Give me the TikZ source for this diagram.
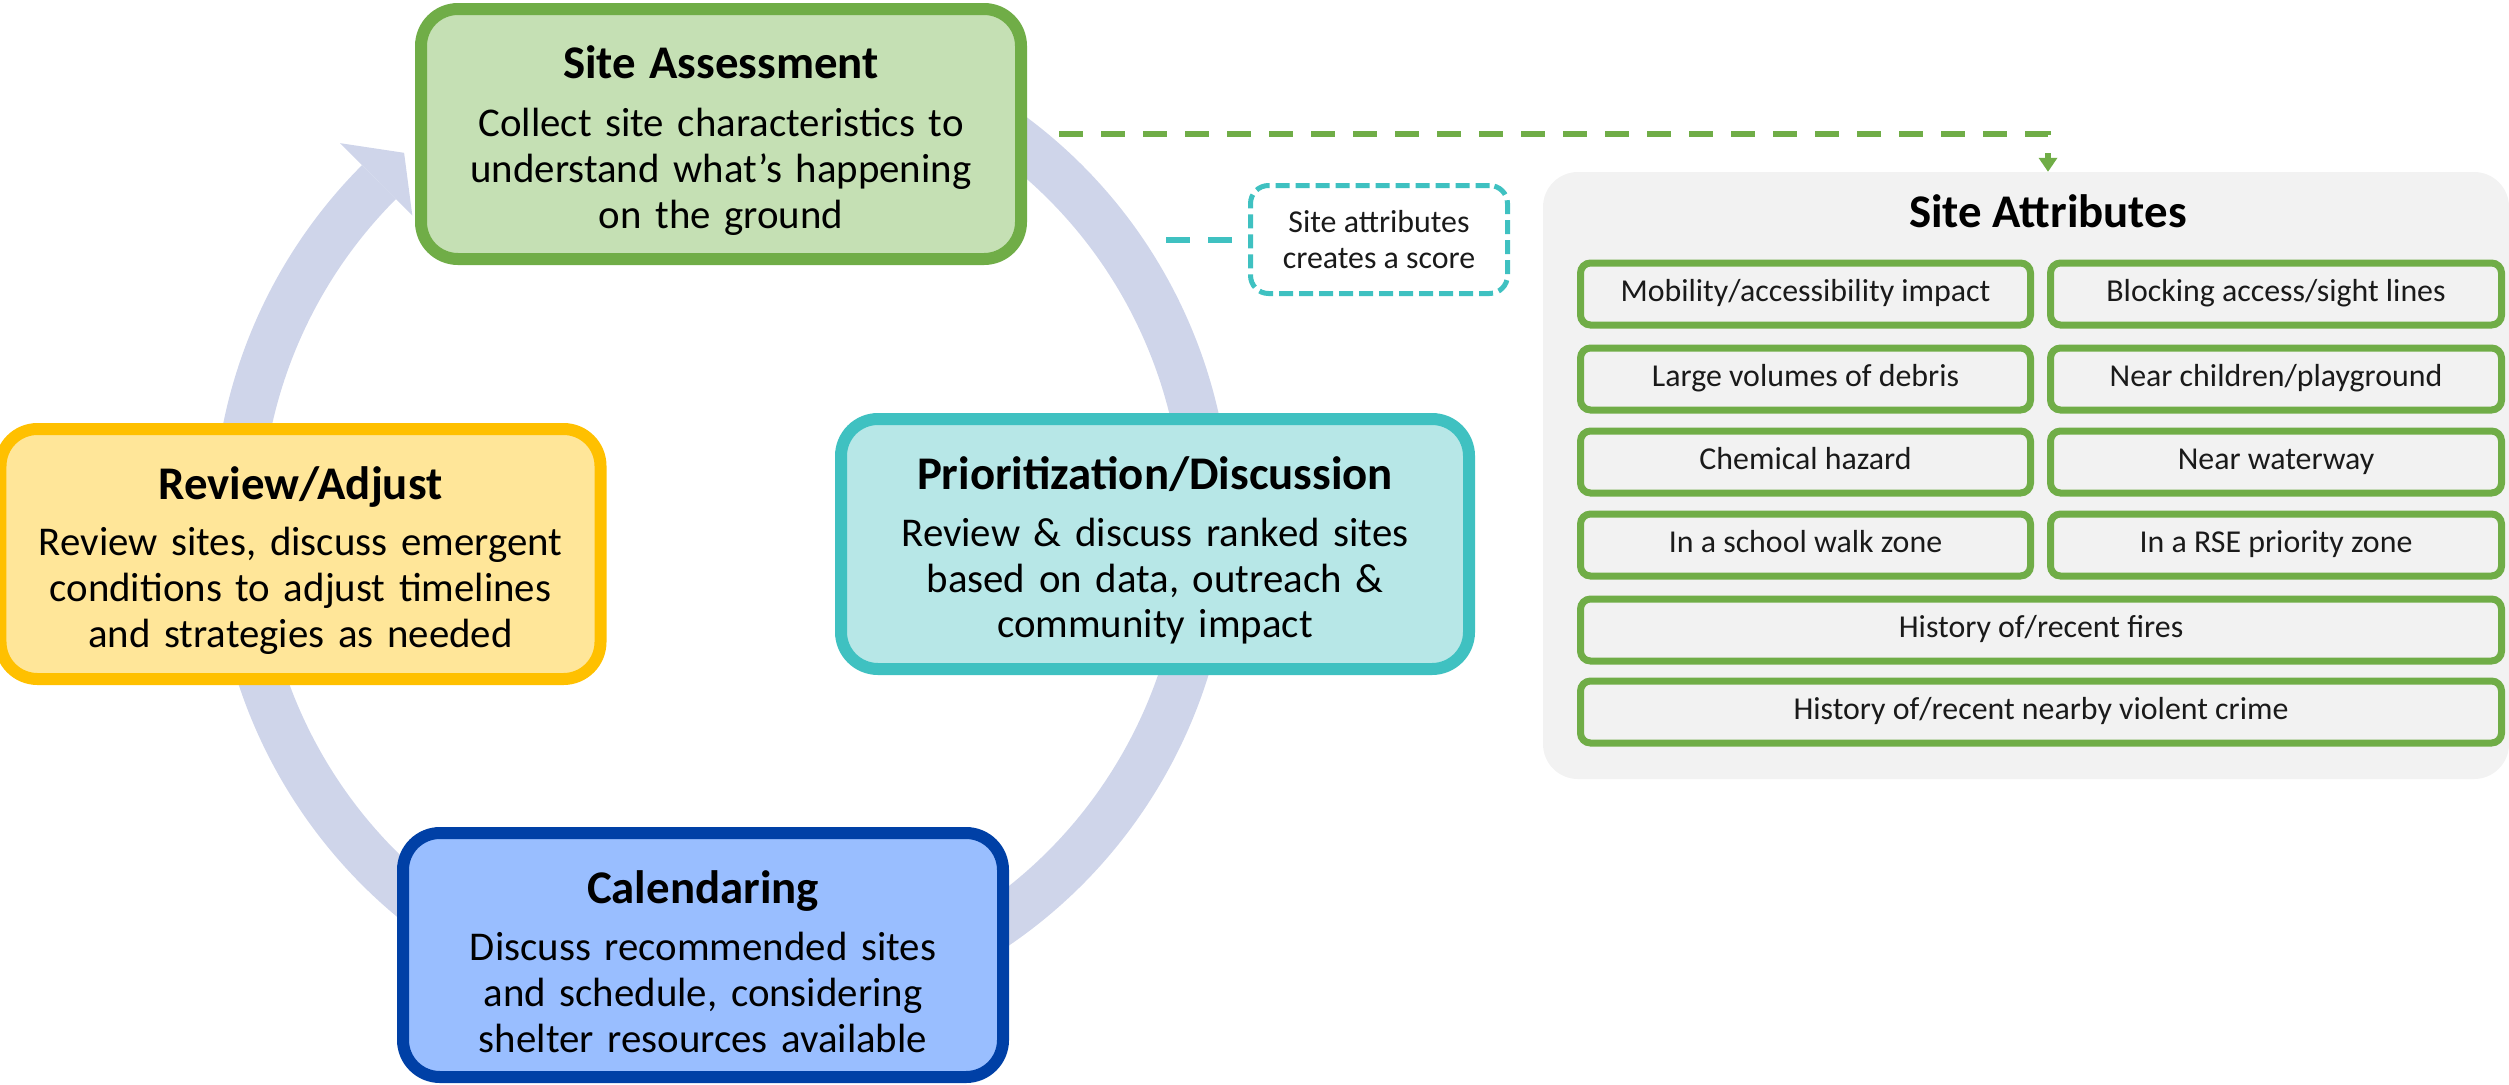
\documentclass[tikz,border=0pt]{standalone}
\usepackage{fontspec}
\setmainfont{Carlito}
\usetikzlibrary{arrows.meta,calc}
\definecolor{gborder}{HTML}{70AD47}
\definecolor{gfill}{HTML}{C5E0B4}
\definecolor{yborder}{HTML}{FFC000}
\definecolor{yfill}{HTML}{FFE699}
\definecolor{tborder}{HTML}{3FC1C1}
\definecolor{tfill}{HTML}{B7E7E7}
\definecolor{bborder}{HTML}{0040A6}
\definecolor{bfill}{HTML}{99BEFF}
\definecolor{ringc}{HTML}{CFD5EA}
\definecolor{panelc}{HTML}{F2F2F2}
\definecolor{txtc}{HTML}{1A1A1A}
\newcommand\stagetitle[1]{{\fontsize{47}{50}\selectfont\bfseries\rule{0pt}{46bp}#1}}
\tikzset{
  stage/.style={rounded corners=37bp, line width=12bp, inner sep=0pt, align=center,
    text width=600bp, font=\fontsize{41}{46}\selectfont, text=black},
  attr/.style={draw=gborder, line width=7bp, rounded corners=10bp, minimum height=62bp,
    inner sep=0pt, font=\fontsize{32}{36}\selectfont, text=txtc, text height=22bp, text depth=7bp},
  dashconn/.style={line width=6bp, dash pattern=on 24bp off 18bp},
}
\begin{document}
\begin{tikzpicture}[x=1bp,y=-1bp]
\useasboundingbox (0,0) rectangle (2509,1084);
% cycle ring
\coordinate (rc) at (722,525);
\draw[ringc, line width=48bp] (rc) ++(-60:485) arc[start angle=-60, end angle=225, radius=485];
\fill[ringc] ($(rc)+(225:540)$) -- ($(rc)+(229.5:489.5)$) -- ($(rc)+(225:438)$) -- cycle;
% stages
\node[stage, draw=gborder, fill=gfill, minimum width=586bp, minimum height=250bp] (sa) at (721,134)
  {\stagetitle{Site Assessment}\\[12bp] Collect site characteristics to\\ understand what’s happening\\ on the ground};
\node[stage, draw=yborder, fill=yfill, minimum width=581bp, minimum height=250bp] (rev) at (300.5,554)
  {\stagetitle{Review/Adjust}\\[10bp] Review sites, discuss emergent\\ conditions to adjust timelines\\ and strategies as needed};
\node[stage, draw=tborder, fill=tfill, minimum width=628bp, minimum height=250bp] (pri) at (1155,544)
  {\stagetitle{Prioritization/Discussion}\\[11bp] Review \& discuss ranked sites\\ based on data, outreach \&\\ community impact};
\node[stage, draw=bborder, fill=bfill, minimum width=588bp, minimum height=244bp] (cal) at (703,955)
  {\stagetitle{Calendaring}\\[11bp] Discuss recommended sites\\ and schedule, considering\\ shelter resources available};
% attributes panel
\node[fill=panelc, rounded corners=35bp, minimum width=966bp, minimum height=607bp, inner sep=0pt] (panel) at (2026,475.5) {};
\node[anchor=base, font=\fontsize{47}{50}\selectfont\bfseries, inner sep=0pt] (satitle) at (2048,227) {Site Attributes};
\node[attr, minimum width=450bp] (a1) at (1805.5,294) {Mobility/accessibility impact};
\node[attr, minimum width=451bp] (a2) at (2276,294) {Blocking access/sight lines};
\node[attr, minimum width=450bp] (a3) at (1805.5,379) {Large volumes of debris};
\node[attr, minimum width=451bp] (a4) at (2276,379) {Near children/playground};
\node[attr, minimum width=450bp] (a5) at (1805.5,462) {Chemical hazard};
\node[attr, minimum width=451bp] (a6) at (2276,462) {Near waterway};
\node[attr, minimum width=450bp] (a7) at (1805.5,545) {In a school walk zone};
\node[attr, minimum width=451bp] (a8) at (2276,545) {In a RSE priority zone};
\node[attr, minimum width=921bp] (a9) at (2041,630) {History of/recent fires};
\node[attr, minimum width=921bp] (a10) at (2041,712) {History of/recent nearby violent crime};
% score note
\node[draw=tborder, fill=white, line width=5bp, dash pattern=on 14bp off 6bp, rounded corners=18bp,
  minimum width=257bp, minimum height=108bp, inner sep=0pt, align=center,
  font=\fontsize{32}{37}\selectfont, text=txtc] (score) at (1379,239.5) {Site attributes\\creates a score};
\coordinate (tstart) at (1166,239.5);
\draw[dashconn, tborder] (tstart) -- (score.west);
% connector to attributes
\draw[dashconn, gborder, -{Triangle[width=18bp,length=14bp]}] ($(sa.east)+(32,0)$) -| (panel.north -| satitle);
\end{tikzpicture}
\end{document}
